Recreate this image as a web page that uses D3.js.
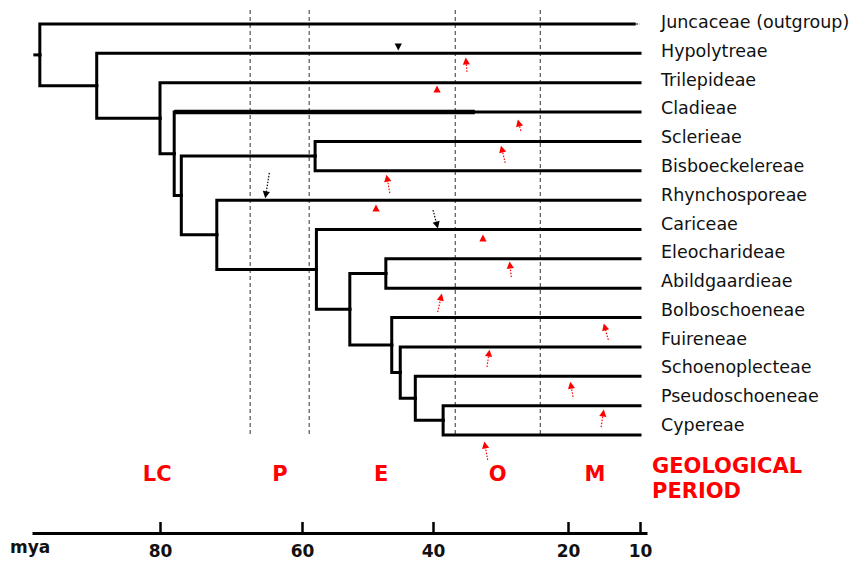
<!DOCTYPE html>
<html>
<head>
<meta charset="utf-8">
<script src="https://cdn.jsdelivr.net/npm/d3@7"></script>
<style>
  html, body { margin: 0; padding: 0; background: #fff; }
  svg { display: block; }
  text { font-family: "DejaVu Sans", Verdana, sans-serif; }
</style>
</head>
<body>
<svg id="chart" width="858" height="561"></svg>
<script>
// ---------------- DATA ----------------
const leafNames = [
  "Juncaceae (outgroup)", "Hypolytreae", "Trilepideae", "Cladieae", "Sclerieae",
  "Bisboeckelereae", "Rhynchosporeae", "Cariceae", "Eleocharideae", "Abildgaardieae",
  "Bolboschoeneae", "Fuireneae", "Schoenoplecteae", "Pseudoschoeneae", "Cypereae"
];
const tipAge = 10;            // mya, tips of the ingroup
const outgroupTipAge = 10.8;  // mya, end of solid outgroup branch
const rootStemAge = 97.6;     // mya, start of root stub

// internal nodes: id, age (mya), children
const cladeIds = ["root","N1","N2","N3","N4","N5","N6","N7","N8","N9","N10","N11","N12","N13"];
const cladeAges = [96.9, 88.9, 80.0, 78.0, 77.0, 58.0, 72.0, 57.8, 52.7, 47.2, 46.3, 45.0, 42.7, 38.5];
const cladeChildren = [
  ["Juncaceae (outgroup)", "N1"],
  ["Hypolytreae", "N2"],
  ["Trilepideae", "N3"],
  ["Cladieae", "N4"],
  ["N5", "N6"],
  ["Sclerieae", "Bisboeckelereae"],
  ["Rhynchosporeae", "N7"],
  ["Cariceae", "N8"],
  ["N9", "N10"],
  ["Eleocharideae", "Abildgaardieae"],
  ["Bolboschoeneae", "N11"],
  ["Fuireneae", "N12"],
  ["Schoenoplecteae", "N13"],
  ["Pseudoschoeneae", "Cypereae"]
];
const cladieaeThickTo = 33.8; // mya, thicker part of Cladieae branch

// axis
const tickValues = [80, 60, 40, 20, 10];
const axisTitle = "mya";

// geological periods
const periodNames = ["LC", "P", "E", "O", "M"];
const periodMids = [80.4, 63.1, 47.9, 30.4, 16.25];   // mya
const periodBoundaries = [67.3, 58.9, 36.7, 24.1];    // mya
const periodTitle = ["GEOLOGICAL", "PERIOD"];

// rate-shift arrows: [headAge, headRow, tailAge, tailRow, colour, dirIfNoTail]
const shiftArrows = [
  [45.3, 0.78, null, null, "black", "down"],
  [35.1, 1.26, 34.96, 1.63, "red"],
  [39.4, 2.21, null, null, "red", "up"],
  [27.3, 3.37, 27.0, 3.64, "red"],
  [29.8, 4.26, 29.3, 4.73, "red"],
  [47.0, 5.25, 46.6, 5.76, "red"],
  [48.7, 6.27, null, null, "red", "up"],
  [39.4, 6.85, 40.0, 6.34, "black"],
  [32.6, 7.29, null, null, "red", "up"],
  [65.1, 5.82, 64.6, 5.07, "black"],
  [28.6, 8.21, 28.4, 8.62, "red"],
  [38.8, 9.30, 39.3, 9.81, "red"],
  [14.9, 10.32, 14.4, 10.76, "red"],
  [31.7, 11.21, 32.0, 11.68, "red"],
  [19.6, 12.30, 19.3, 12.70, "red"],
  [15.1, 13.25, 15.4, 13.73, "red"],
  [32.3, 14.34, 31.9, 14.85, "red"]
];

// ---------------- SCALES ----------------
const svg = d3.select("#chart");
svg.append("rect").attr("width", 858).attr("height", 561).attr("fill", "#fff");

// time axis as drawn in the figure (piecewise-linear between labelled ticks)
const x = d3.scaleLinear()
  .domain([98, 80, 60, 40, 20, 10, 9.03])
  .range([32, 160, 302, 433, 568, 640, 647]);
const row = d3.scaleLinear().domain([0, leafNames.length - 1]).range([24, 435]);
const labelRow = d3.scaleLinear().domain([0, leafNames.length - 1]).range([28, 431]);
const RED = "#ff0000";

// ---------------- TREE ----------------
const nodeById = {};
cladeIds.forEach((id, i) => { nodeById[id] = { name: id, age: cladeAges[i], kids: cladeChildren[i] }; });
function build(id) {
  if (nodeById[id]) {
    return { name: id, age: nodeById[id].age, children: nodeById[id].kids.map(build) };
  }
  return { name: id, age: id === leafNames[0] ? outgroupTipAge : tipAge };
}
const root = d3.hierarchy(build("root"));
root.eachAfter(n => {
  if (!n.children) n.py = row(leafNames.indexOf(n.data.name));
  else n.py = (n.children[0].py + n.children[n.children.length - 1].py) / 2;
  n.px = x(n.data.age);
});

// dashed period boundaries
svg.append("g").selectAll("line").data(periodBoundaries).join("line")
  .attr("x1", d => x(d)).attr("x2", d => x(d))
  .attr("y1", 10).attr("y2", 436)
  .attr("stroke", "#555").attr("stroke-width", 1.2)
  .attr("stroke-dasharray", "4,3");

const treeG = svg.append("g")
  .attr("fill", "none").attr("stroke", "#000")
  .attr("stroke-width", 3).attr("stroke-linecap", "square").attr("stroke-linejoin", "miter");

// root stub
treeG.append("path").attr("d", `M${x(rootStemAge)},${root.py}H${root.px}`);
// elbow links
treeG.selectAll("path.link").data(root.descendants().filter(d => d.parent)).join("path")
  .attr("class", "link")
  .attr("d", d => `M${d.parent.px},${d.parent.py}V${d.py}H${d.px}`);

// outgroup dotted tail
const outLeaf = root.leaves().find(l => l.data.name === leafNames[0]);
svg.append("line")
  .attr("x1", outLeaf.px + 2).attr("x2", x(tipAge))
  .attr("y1", outLeaf.py).attr("y2", outLeaf.py)
  .attr("stroke", "#555").attr("stroke-width", 2).attr("stroke-dasharray", "1.5,2");

// thicker part of Cladieae branch
const clad = root.leaves().find(l => l.data.name === "Cladieae");
svg.append("line")
  .attr("x1", clad.parent.px).attr("x2", x(cladieaeThickTo))
  .attr("y1", clad.py).attr("y2", clad.py)
  .attr("stroke", "#000").attr("stroke-width", 4.4);

// leaf labels
svg.append("g").selectAll("text").data(leafNames).join("text")
  .attr("x", x(tipAge) + 21)
  .attr("y", (d, i) => labelRow(i))
  .attr("font-size", 17.5).attr("fill", "#111")
  .text(d => d);

// ---------------- ARROWS ----------------
const arrG = svg.append("g");
shiftArrows.forEach(a => {
  const [ha, hr, ta, tr, col, dir] = a;
  const hx = x(ha), hy = row(hr);
  let ang;
  if (ta !== null) {
    const tx = x(ta), ty = row(tr);
    arrG.append("line").attr("x1", tx).attr("y1", ty).attr("x2", hx).attr("y2", hy)
      .attr("stroke", col).attr("stroke-width", 1.2).attr("stroke-dasharray", "1.5,1.5");
    ang = Math.atan2(hy - ty, hx - tx);
  } else {
    ang = dir === "down" ? Math.PI / 2 : -Math.PI / 2;
  }
  const L = 7, W = 3.6;
  const c = Math.cos(ang), s = Math.sin(ang);
  const tip = [hx + c * L / 2, hy + s * L / 2];
  const b1 = [hx - c * L / 2 - s * W, hy - s * L / 2 + c * W];
  const b2 = [hx - c * L / 2 + s * W, hy - s * L / 2 - c * W];
  arrG.append("path").attr("d", `M${tip}L${b1}L${b2}Z`).attr("fill", col);
});

// ---------------- PERIOD LABELS ----------------
svg.append("g").selectAll("text").data(periodNames).join("text")
  .attr("x", (d, i) => x(periodMids[i]))
  .attr("y", 481)
  .attr("text-anchor", "middle")
  .attr("font-size", 21).attr("font-weight", "bold").attr("fill", RED)
  .text(d => d);
svg.append("g").selectAll("text").data(periodTitle).join("text")
  .attr("x", x(tipAge) + 12)
  .attr("y", (d, i) => 473 + i * 25)
  .attr("font-size", 21).attr("font-weight", "bold").attr("fill", RED)
  .text(d => d);

// ---------------- AXIS ----------------
const axisG = svg.append("g").attr("transform", "translate(0,533)")
  .call(d3.axisBottom(x).tickValues(tickValues).tickSizeInner(-11).tickSizeOuter(0).tickFormat(d3.format("d")));
axisG.select(".domain").attr("stroke", "#000").attr("stroke-width", 3);
axisG.selectAll(".tick line").attr("stroke", "#000").attr("stroke-width", 2.5);
axisG.selectAll(".tick text")
  .attr("y", 24).attr("dy", 0)
  .attr("font-family", "DejaVu Sans, Verdana, sans-serif")
  .attr("font-size", 17).attr("font-weight", "bold").attr("fill", "#111");
svg.append("text").attr("x", 10).attr("y", 553)
  .attr("font-size", 17).attr("font-weight", "bold").attr("fill", "#111")
  .text(axisTitle);
</script>
</body>
</html>
